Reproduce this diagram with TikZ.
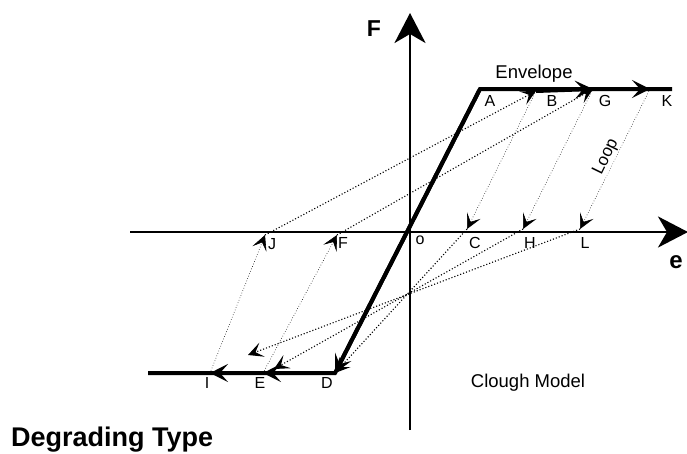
\documentclass[tikz,border=0pt]{standalone}
\usepackage{fontspec}
\setmainfont{Liberation Sans}
\usetikzlibrary{arrows.meta}

\begin{document}
\begin{tikzpicture}[x=1pt,y=-1pt]
\tikzset{
    >={Stealth[length=15pt,width=15pt,inset=7pt]},
    eixo/.style={line width=2.8pt, -{Stealth[length=30pt,width=31pt,inset=9pt]}},
    envoltoria/.style={line width=4pt},
    pontaEnv/.style={-{Stealth[length=18pt,width=18pt,inset=8pt]}},
    recarga/.style={line width=1.1pt, dotted},
    descarga/.style={line width=0.6pt, dotted},
    rotulo/.style={font=\fontsize{16}{16}\selectfont, inner sep=0pt}
}
\useasboundingbox (0,0) rectangle (687,453);

% Pontos
\coordinate (O)    at (410,232);
\coordinate (A)    at (480,89);
\coordinate (B)    at (536,91);
\coordinate (G)    at (593,89);
\coordinate (K)    at (650,89);
\coordinate (Kfim) at (672,89);
\coordinate (D)    at (335,373);
\coordinate (E)    at (263,373);
\coordinate (Ed)   at (274,369);
\coordinate (I)    at (210,373);
\coordinate (Ifim) at (148,373);
\coordinate (Id)   at (248,355);
\coordinate (C)    at (467,229);
\coordinate (H)    at (523,229);
\coordinate (L)    at (580,229);
\coordinate (F)    at (337,235);
\coordinate (J)    at (265,235);
\coordinate (Xe)   at (130,232);
\coordinate (Xd)   at (688,232);
\coordinate (Yb)   at (410,430);
\coordinate (Yc)   at (410,13);

% Eixos
\draw[eixo] (Xe) -- (Xd);
\draw[eixo] (Yb) -- (Yc);

% Envoltoria
\draw[envoltoria] (Kfim) -- (A) -- (D) -- (Ifim);
\draw[envoltoria,pontaEnv] (B) -- (G);
\draw[envoltoria,pontaEnv] (G) -- (K);
\draw[envoltoria,pontaEnv] (A) -- (D);
\draw[envoltoria,pontaEnv] (D) -- (E);
\draw[envoltoria,pontaEnv] (E) -- (I);

% Descargas
\draw[descarga,->] (B) -- (C);
\draw[descarga,->] (G) -- (H);
\draw[descarga,->] (K) -- (L);
\draw[descarga,->] (E) -- (F);
\draw[descarga,->] (I) -- (J);

% Recargas
\draw[recarga,->] (J) -- (B);
\draw[recarga,->] (F) -- (G);
\draw[recarga,->] (C) -- (D);
\draw[recarga,->] (H) -- (Ed);
\draw[recarga,->] (L) -- (Id);

% Rotulos
\node[rotulo, font=\bfseries\fontsize{23}{23}\selectfont] (lF) at (374,29) {F};
\node[rotulo, font=\bfseries\fontsize{24}{24}\selectfont] (le) at (676,262) {e};
\node[rotulo, font=\fontsize{18.5}{18.5}\selectfont] (env) at (534,74) {Envelope};
\node[rotulo, font=\fontsize{17}{17}\selectfont, fill=white, inner sep=1pt,
      rotate=64] (loop) at (606,157) {Loop};
\node[rotulo] (lA)  at (490,101) {A};
\node[rotulo] (lB)  at (552,101) {B};
\node[rotulo] (lG)  at (605,101) {G};
\node[rotulo] (lK)  at (667,101) {K};
\node[rotulo] (lo)  at (420,240) {o};
\node[rotulo] (lC)  at (475,243) {C};
\node[rotulo] (lH)  at (530,243) {H};
\node[rotulo] (lL)  at (585,243) {L};
\node[rotulo] (lJ)  at (272,244) {J};
\node[rotulo] (lFn) at (343,243) {F};
\node[rotulo] (lI)  at (207,383) {I};
\node[rotulo] (lE)  at (260,383) {E};
\node[rotulo] (lD)  at (327,383) {D};
\node[rotulo, font=\fontsize{18.5}{18.5}\selectfont] (clough) at (528,383) {Clough Model};
\node[rotulo, font=\bfseries\fontsize{27}{27}\selectfont, anchor=base west] (tipo) at (11,446) {Degrading Type};
\end{tikzpicture}
\end{document}
